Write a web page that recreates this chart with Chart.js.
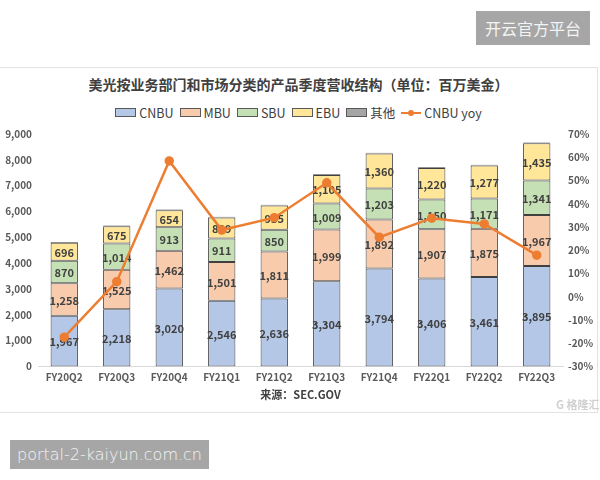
<!DOCTYPE html>
<html>
<head>
<meta charset="utf-8">
<script src="https://cdn.jsdelivr.net/npm/chart.js@4"></script>
<style>
    body { margin: 0; width: 600px; height: 480px; background: #fff; position: relative; overflow: hidden;
           font-family: "Noto Sans CJK SC", "Open Sans", sans-serif; color: #404040; }
    .mark { position: absolute; background: #a6a6a6; color: #f4f4f4; }
    #panel { position: absolute; left: 0; top: 67px; width: 597px; height: 344px; border: 1px solid #e3e3e3; border-left: none; }
    #title { position: absolute; top: 74px; left: 0; width: 597px; text-align: center; font-size: 14px; font-weight: bold; color: #404040; }
    #legend { position: absolute; top: 103px; left: 0; width: 597px; display: flex; justify-content: center; font-size: 12.5px; }
    .item { display: flex; align-items: center; margin: 0 3px; }
    .box { width: 19px; height: 7px; border: 1px solid #595959; margin-right: 3px; }
    .ln { width: 20px; height: 2px; background: #ed7d31; margin-right: 3px; position: relative; }
    .ln::after { content: ""; position: absolute; left: 7px; top: -2px; width: 6px; height: 6px; border-radius: 50%; background: #ed7d31; }
    #chartBox { position: absolute; left: 0; top: 120px; width: 600px; height: 282px; }
    #logo { position: absolute; left: 556px; top: 396px; font-size: 11px; color: #d0d0d0; font-weight: bold; }
</style>
</head>
<body>
<div class="mark" style="left:476px;top:11px;width:114px;height:34px;line-height:34px;text-align:center;font-size:16px;">开云官方平台</div>
<div class="mark" style="left:10px;top:440px;width:199px;height:29px;line-height:29px;text-align:center;font-size:16px;font-family:'DejaVu Sans',sans-serif;font-weight:300;">portal-2-kaiyun.com.cn</div>
<div id="panel"></div>
<div id="title">美光按业务部门和市场分类的产品季度营收结构（单位：百万美金）</div>
<div id="legend"></div>
<div id="chartBox"><canvas id="chart"></canvas></div>
<div id="logo">G 格隆汇</div>
<script>
const quarters = ["FY20Q2", "FY20Q3", "FY20Q4", "FY21Q1", "FY21Q2", "FY21Q3", "FY21Q4", "FY22Q1", "FY22Q2", "FY22Q3"];
const cnbu = [1967, 2218, 3020, 2546, 2636, 3304, 3794, 3406, 3461, 3895];
const mbu = [1258, 1525, 1462, 1501, 1811, 1999, 1892, 1907, 1875, 1967];
const sbu = [870, 1014, 913, 911, 850, 1009, 1203, 1150, 1171, 1341];
const ebu = [696, 675, 654, 809, 935, 1105, 1360, 1220, 1277, 1435];
const other = [25, 25, 30, 25, 30, 25, 30, 30, 30, 30];
const cnbuYoy = [-17.4, 6.5, 58.4, 28.7, 34.0, 49.0, 25.6, 33.8, 31.3, 17.9];

const barSeries = [
    { label: "CNBU", data: cnbu, color: "#b4c7e7" },
    { label: "MBU", data: mbu, color: "#f8cbad" },
    { label: "SBU", data: sbu, color: "#c5e0b4" },
    { label: "EBU", data: ebu, color: "#ffe699" },
    { label: "其他", data: other, color: "#a5a5a5" }
];
const lineColor = "#ed7d31";

// html legend
const legend = document.getElementById("legend");
barSeries.forEach(s => {
    const item = document.createElement("div");
    item.className = "item";
    item.innerHTML = '<span class="box" style="background:' + s.color + '"></span>' + s.label;
    legend.appendChild(item);
});
const lineItem = document.createElement("div");
lineItem.className = "item";
lineItem.innerHTML = '<span class="ln"></span>CNBU yoy';
legend.appendChild(lineItem);

const barLabels = {
    id: "barLabels",
    afterDatasetDraw(chart, args) {
        if (args.index > 3) return;
        const ctx = chart.ctx;
        const data = chart.data.datasets[args.index].data;
        ctx.save();
        ctx.font = "bold 11px 'Noto Sans CJK SC', sans-serif";
        ctx.fillStyle = "#404040";
        ctx.textAlign = "center";
        ctx.textBaseline = "middle";
        args.meta.data.forEach((bar, i) => {
            ctx.fillText(data[i].toLocaleString("en-US"), bar.x, (bar.y + bar.base) / 2 + 1);
        });
        ctx.restore();
    }
};

const tickFont = { family: "'Noto Sans CJK SC', sans-serif", size: 10, weight: "bold" };

const datasets = barSeries.map(s => ({
    type: "bar",
    label: s.label,
    data: s.data,
    backgroundColor: s.color,
    borderColor: "#404040",
    borderWidth: 1,
    borderSkipped: false,
    barPercentage: 0.52,
    categoryPercentage: 1,
    yAxisID: "y",
    order: 1
}));
datasets.push({
    type: "line",
    label: "CNBU yoy",
    data: cnbuYoy,
    borderColor: lineColor,
    backgroundColor: lineColor,
    borderWidth: 2.5,
    pointRadius: 3.5,
    yAxisID: "y2",
    order: 0
});

new Chart(document.getElementById("chart"), {
    data: { labels: quarters, datasets: datasets },
    options: {
        responsive: true,
        maintainAspectRatio: false,
        animation: false,
        layout: { padding: { top: 14, left: 0, right: 0, bottom: 0 } },
        plugins: { legend: { display: false }, tooltip: { enabled: false } },
        scales: {
            x: {
                stacked: true,
                grid: { display: false, drawTicks: false },
                border: { color: "#d9d9d9" },
                ticks: { color: "#595959", font: tickFont, padding: 5 },
                title: { display: true, text: "来源：SEC.GOV", color: "#404040",
                         font: { family: "'Noto Sans CJK SC', sans-serif", size: 11, weight: "bold" },
                         padding: { top: 0, bottom: 1 } },
                afterFit(scale) { scale.height = 35.5; }
            },
            y: {
                stacked: true,
                position: "left",
                min: 0,
                max: 9000,
                grid: { display: false, drawTicks: false },
                border: { display: false },
                ticks: { stepSize: 1000, color: "#595959", font: tickFont, padding: 6,
                         callback: v => v.toLocaleString("en-US") },
                afterFit(scale) { scale.width = 38; }
            },
            y2: {
                position: "right",
                min: -30,
                max: 70,
                grid: { display: false, drawTicks: false },
                border: { display: false },
                ticks: { stepSize: 10, color: "#595959", font: tickFont, padding: 5,
                         callback: v => v + "%" },
                afterFit(scale) { scale.width = 37; }
            }
        }
    },
    plugins: [barLabels]
});
</script>
</body>
</html>
